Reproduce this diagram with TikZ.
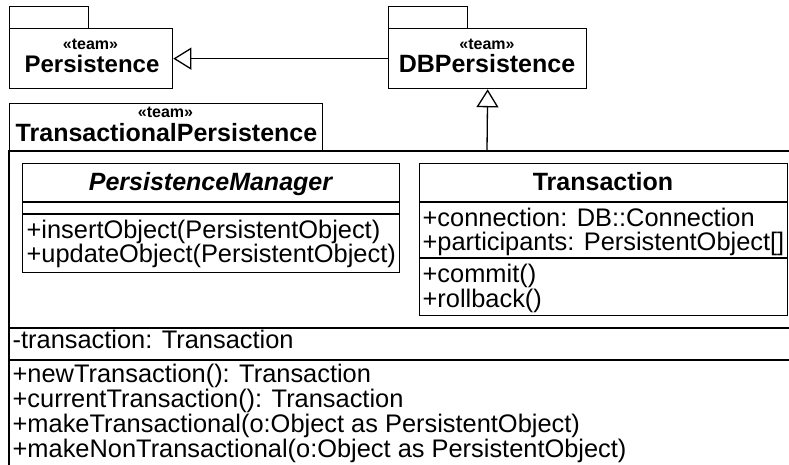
\documentclass[tikz,border=0pt]{standalone}
\usepackage{fontspec}
\setmainfont{Liberation Sans}
\usetikzlibrary{arrows.meta}

\begin{document}
\begin{tikzpicture}[x=1pt, y=-1pt, line width=1.3pt,
  txt/.style={inner sep=0pt, font=\fontsize{25.4}{25}\selectfont},
  member/.style={txt, anchor=base west},
  stereo/.style={inner sep=0pt, anchor=base, font=\fontsize{16}{16}\selectfont\bfseries},
  pkgname/.style={inner sep=0pt, anchor=base, font=\fontsize{25}{25}\selectfont\bfseries},
  clsname/.style={pkgname},
  box/.style={draw, inner sep=0pt, anchor=north west},
  gen/.style={-{Triangle[open, length=18pt, width=22pt]}}
]
\useasboundingbox (0,0) rectangle (789,465);

% package Persistence
\node[box, minimum width=79pt, minimum height=22pt] (persistTab) at (9,6) {};
\node[box, minimum width=163pt, minimum height=60pt] (persist) at (9,28) {};
\node[stereo] (persistSt) at (90.5,50) {«team»};
\node[pkgname, font=\fontsize{24}{24}\selectfont\bfseries] (persistName) at (92,73) {Persistence};

% package DBPersistence
\node[box, minimum width=79pt, minimum height=22pt] (dbpTab) at (388,6) {};
\node[box, minimum width=198pt, minimum height=60pt] (dbp) at (388,28) {};
\node[stereo] (dbpSt) at (487,50) {«team»};
\node[pkgname] (dbpName) at (487,73) {DBPersistence};

% package TransactionalPersistence (body runs past the page edges)
\node[box, minimum width=313pt, minimum height=48pt] (tpTab) at (9,103) {};
\node[stereo] (tpSt) at (165.5,118) {«team»};
\node[pkgname] (tpName) at (166.5,142) {TransactionalPersistence};
\draw (789,151) -- (9,151) -- (9,465);
\draw (9,328) -- (789,328);
\draw (9,360) -- (789,360);
\node[member] (tpAttr) at (12,348) {-transaction: Transaction};
\node[member] (tpOp1) at (12,382) {+newTransaction(): Transaction};
\node[member] (tpOp2) at (12,407) {+currentTransaction(): Transaction};
\node[member] (tpOp3) at (12,432) {+makeTransactional(o:Object as PersistentObject)};
\node[member] (tpOp4) at (12,457) {+makeNonTransactional(o:Object as PersistentObject)};

% class PersistenceManager
\node[box, minimum width=377pt, minimum height=109pt] (pm) at (22,163) {};
\draw (22,202) -- (399,202);
\draw (22,214) -- (399,214);
\node[clsname, font=\fontsize{25}{25}\selectfont\bfseries\itshape] (pmName) at (210.5,190) {PersistenceManager};
\node[member] (pmOp1) at (26,238) {+insertObject(PersistentObject)};
\node[member] (pmOp2) at (26,262) {+updateObject(PersistentObject)};

% class Transaction
\node[box, minimum width=368pt, minimum height=152pt] (tr) at (419,163) {};
\draw (419,202) -- (787,202);
\draw (419,258) -- (787,258);
\node[clsname] (trName) at (603,190) {Transaction};
\node[member] (trAttr1) at (422,226) {+connection: DB::Connection};
\node[member] (trAttr2) at (422,250) {+participants: PersistentObject[]};
\node[member] (trOp1) at (422,282) {+commit()};
\node[member] (trOp2) at (422,307) {+rollback()};

% generalizations
\coordinate (tpTop) at (487,151);
\draw[gen] (dbp.west) -- (persist.east);
\draw[gen] (tpTop) -- (dbp.south);
\end{tikzpicture}
\end{document}
